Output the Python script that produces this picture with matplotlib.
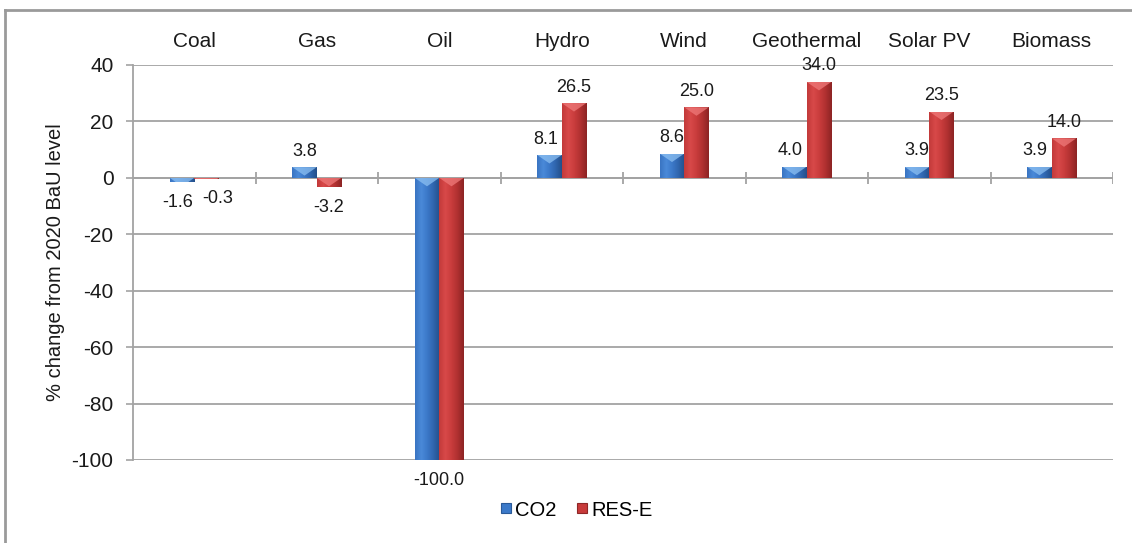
import numpy as np
import matplotlib
matplotlib.use("Agg")
import matplotlib.pyplot as plt
from matplotlib.colors import LinearSegmentedColormap
from matplotlib.lines import Line2D
from matplotlib.patches import Polygon

plt.rcParams['font.family'] = ['Liberation Sans', 'DejaVu Sans']
plt.rcParams['axes.unicode_minus'] = False

# Data
categories = ["Coal", "Gas", "Oil", "Hydro", "Wind", "Geothermal", "Solar PV", "Biomass"]
co2 = [-1.6, 3.8, -100.0, 8.1, 8.6, 4.0, 3.9, 3.9]
res_e = [-0.3, -3.2, -100.0, 26.5, 25.0, 34.0, 23.5, 14.0]
series_names = ["CO2", "RES-E"]
y_ticks = [40, 20, 0, -20, -40, -60, -80, -100]
y_label = "% change from 2020 BaU level"

# Label placement: horizontal nudges in points, and which labels are drawn
# (the shared -100.0 for oil is written once, centred on the pair)
co2_dx = [-3, 0, 8.8, -3, 0, -3, 0, -3]
res_dx = [8, 0, 0, 0, 0, 0, 0, 0]
co2_show = [True] * 8
res_show = [True, True, False, True, True, True, True, True]

grid_col = "#a3a3a3"
blue_main = "#3b79c9"
red_main = "#c83b3b"
blue_cmap = LinearSegmentedColormap.from_list(
    "b", ["#3a74c2", "#4a8ad9", "#3b78c8", "#2f65ad", "#244f8a"])
red_cmap = LinearSegmentedColormap.from_list(
    "r", ["#c23a3a", "#d84949", "#c93c3c", "#b03030", "#8c2424"])

fig = plt.figure(figsize=(11.32, 5.43), dpi=100)
ax = fig.add_axes([133 / 1132, 1 - 460 / 543, (1113 - 133) / 1132, (460 - 65) / 543])

x = np.arange(len(categories))
w = 0.2


def shade_bars(bars, cmap, bevel_col):
    for b in bars:
        x0, y0 = b.get_x(), b.get_y()
        bw, bh = b.get_width(), b.get_height()
        lo, hi = min(y0, y0 + bh), max(y0, y0 + bh)
        grad = np.linspace(0, 1, 64).reshape(1, -1)
        im = ax.imshow(grad, cmap=cmap, extent=(x0, x0 + bw, lo, hi),
                       aspect='auto', origin='lower', zorder=3.1,
                       interpolation='bilinear')
        im.set_clip_path(b)
        tri = Polygon([(x0, hi), (x0 + bw, hi), (x0 + bw / 2, hi - 3.0)],
                      closed=True, facecolor=bevel_col, edgecolor='none',
                      alpha=0.75, zorder=3.2)
        ax.add_patch(tri)
        tri.set_clip_path(b)


b1 = ax.bar(x - w / 2, co2, w, color=blue_main, zorder=3, linewidth=0)
b2 = ax.bar(x + w / 2, res_e, w, color=red_main, zorder=3, linewidth=0)
shade_bars(b1, blue_cmap, "#8cc0f2")
shade_bars(b2, red_cmap, "#ef7a7a")

# Value labels
for bars, vals, dxs, show in ((b1, co2, co2_dx, co2_show), (b2, res_e, res_dx, res_show)):
    for b, v, dx, s in zip(bars, vals, dxs, show):
        if not s:
            continue
        cx = b.get_x() + b.get_width() / 2
        dy = 11.5 if v >= 0 else -14.5
        ax.annotate(f"{v:.1f}", (cx, v), xytext=(dx, dy), textcoords='offset points',
                    ha='center', va='center', fontsize=13, color='#1a1a1a', zorder=5)

ax.set_xlim(-0.5, len(categories) - 0.5)
ax.set_ylim(-100, 40)
ax.set_yticks(y_ticks)
ax.tick_params(axis='y', length=5, width=1.2, color=grid_col, pad=9,
               labelsize=15, labelcolor='#1a1a1a')
ax.set_ylabel(y_label, fontsize=14.5, color='#1a1a1a', labelpad=5)

# Category names along the top
ax.set_xticks(x)
ax.set_xticklabels(categories)
ax.xaxis.tick_top()
ax.tick_params(axis='x', length=0, pad=10, labelsize=15, labelcolor='#1a1a1a')

ax.grid(axis='y', color=grid_col, linewidth=1.3, zorder=0)
ax.set_axisbelow(True)
for s in ('top', 'right', 'bottom'):
    ax.spines[s].set_visible(False)
ax.spines['left'].set_color(grid_col)
ax.spines['left'].set_linewidth(1.3)

# Category axis at zero with boundary ticks
ax.axhline(0, color=grid_col, linewidth=1.3, zorder=2)
bounds = np.arange(1, len(categories) + 1) - 0.5
ax.vlines(bounds, -2.1, 2.1, color=grid_col, linewidth=1.3, zorder=2)

# Legend
handles = [Line2D([], [], marker='s', linestyle='none', markersize=7.5,
                  markerfacecolor=c, markeredgecolor=e, markeredgewidth=0.8)
           for c, e in ((blue_main, "#2a5a99"), (red_main, "#8f2727"))]
fig.legend(handles, series_names, loc='center', bbox_to_anchor=(576 / 1132, 1 - 510 / 543),
           ncol=2, frameon=False, fontsize=14.5, handlelength=0.6, handletextpad=0.15,
           columnspacing=1.0, borderaxespad=0)

# Outer frame (left and top edges)
fig.add_artist(Line2D([5 / 1132, 5 / 1132], [0, 1 - 10 / 543], transform=fig.transFigure,
                      color="#9a9a9a", linewidth=2))
fig.add_artist(Line2D([5 / 1132, 1], [1 - 10 / 543, 1 - 10 / 543], transform=fig.transFigure,
                      color="#9a9a9a", linewidth=2))

fig.savefig("out.png", dpi=100)
